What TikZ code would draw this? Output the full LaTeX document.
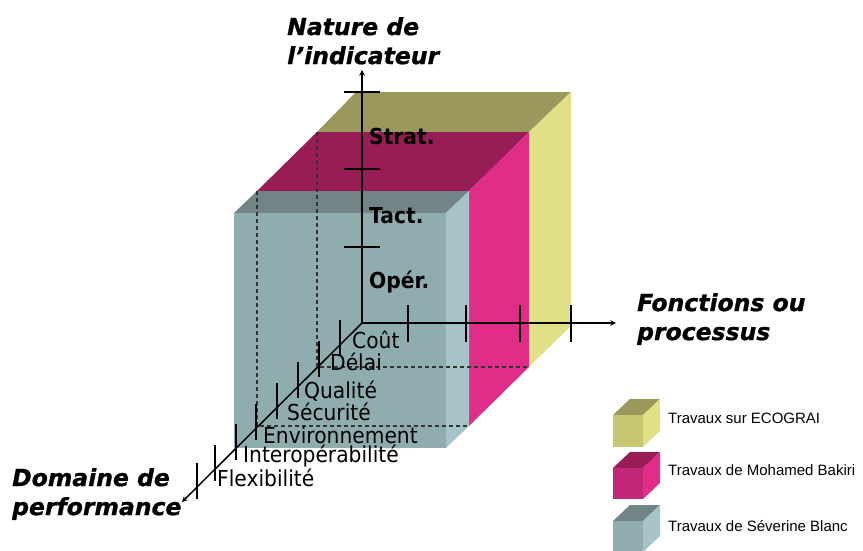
\documentclass[tikz,border=0pt]{standalone}
\usepackage{fontspec}
\setmainfont{DejaVu Sans}
\newfontfamily\etroite{DejaVu Sans}[FakeStretch=0.92]
\newfontfamily\titrefont{DejaVu Sans}[UprightFont={* Bold Oblique},UprightFeatures={FakeBold=0.9}]
\newfontfamily\legfont{Liberation Sans}
\definecolor{grisFace}{HTML}{8FADAF}
\definecolor{grisHaut}{HTML}{718587}
\definecolor{grisCote}{HTML}{A6C4C7}
\definecolor{magFace}{HTML}{C4267A}
\definecolor{magHaut}{HTML}{981D56}
\definecolor{magCote}{HTML}{E02D88}
\definecolor{jauneFace}{HTML}{C9C671}
\definecolor{jauneHaut}{HTML}{9A985A}
\definecolor{jauneCote}{HTML}{E1E087}

\begin{document}
\begin{tikzpicture}[x=1pt,y=-1pt,
  axe/.style={line width=1.5pt,->,>=stealth},
  grad/.style={line width=1.5pt},
  cache/.style={line width=1.1pt,black!80,dash pattern=on 4pt off 3pt},
  titre/.style={inner sep=0,anchor=north west,align=left,font=\fontsize{23.5}{29}\selectfont\titrefont},
  niveau/.style={inner sep=0,anchor=base west,font=\fontsize{22}{26}\selectfont\etroite\bfseries},
  domaine/.style={inner sep=0,anchor=base west,font=\fontsize{22}{26}\selectfont\etroite},
  legende/.style={inner sep=0,anchor=base west,font=\fontsize{15}{18}\selectfont\legfont}]
\useasboundingbox (0,0) rectangle (863,550);

%tranche ECOGRAI
\fill[jauneHaut] (317,132) -- (529,132) -- (571,92) -- (356,92) -- cycle;
\fill[jauneCote] (529,132) -- (571,92) -- (571,326) -- (529,367) -- cycle;
%tranche Bakiri
\fill[magHaut] (257,191) -- (469,191) -- (529,132) -- (317,132) -- cycle;
\fill[magCote] (469,191) -- (529,132) -- (529,367) -- (469,426) -- cycle;
%tranche Blanc
\fill[grisHaut] (234,213) -- (446,213) -- (469,191) -- (257,191) -- cycle;
\fill[grisCote] (446,213) -- (469,191) -- (469,426) -- (446,448) -- cycle;
\fill[grisFace] (234,213) rectangle (446,448);
%aretes cachees
\draw[cache] (257,191) -- (257,426) -- (469,426);
\draw[cache] (317,132) -- (317,367) -- (529,367);
%fin

%axes
\coordinate (O) at (362,323);
\coordinate (Zh) at (362,70);
\coordinate (Xd) at (616,323);
\coordinate (Yb) at (182,502);
\draw[axe] (O) -- (Zh);
\draw[axe] (O) -- (Xd);
\draw[axe] (O) -- (Yb);
%fin

%graduations
\draw[grad] (344,92) --++ (36,0);
\draw[grad] (344,169) --++ (36,0);
\draw[grad] (344,247) --++ (36,0);
\draw[grad] (408,305) --++ (0,37);
\draw[grad] (466,305) --++ (0,37);
\draw[grad] (520,305) --++ (0,37);
\draw[grad] (571,305) --++ (0,37);
\draw[grad] (340,320) --++ (0,36);
\draw[grad] (319,341) --++ (0,36);
\draw[grad] (298,362) --++ (0,36);
\draw[grad] (277,383) --++ (0,36);
\draw[grad] (256,404) --++ (0,36);
\draw[grad] (236,424) --++ (0,36);
\draw[grad] (215,445) --++ (0,36);
\draw[grad] (197,463) --++ (0,36);
%fin

%niveaux
\node[niveau] (strat) at (369,144) {Strat.};
\node[niveau] (tact) at (369,223) {Tact.};
\node[niveau] (oper) at (369,288) {Opér.};
%domaines
\node[domaine] (cout) at (352,348) {Coût};
\node[domaine] (delai) at (330,370) {Délai};
\node[domaine] (qualite) at (304,398) {Qualité};
\node[domaine] (securite) at (287,420) {Sécurité};
\node[domaine] (environ) at (263,443) {Environnement};
\node[domaine] (interop) at (243,462) {Interopérabilité};
\node[domaine] (flexi) at (217,486) {Flexibilité};
%titres des axes
\node[titre] (nature) at (287,17) {Nature de\\l’indicateur};
\node[titre] (fonctions) at (637,293) {Fonctions ou\\processus};
\node[titre] (perf) at (12,468) {Domaine de\\performance};
%fin

%legende
\fill[jauneHaut] (613,415) -- (643,415) -- (660,399) -- (630,399) -- cycle;
\fill[jauneCote] (643,415) -- (660,399) -- (660,431) -- (643,447) -- cycle;
\fill[jauneFace] (613,415) rectangle (643,447);
\fill[magHaut] (613,468) -- (643,468) -- (660,452) -- (630,452) -- cycle;
\fill[magCote] (643,468) -- (660,452) -- (660,483) -- (643,499) -- cycle;
\fill[magFace] (613,468) rectangle (643,499);
\fill[grisHaut] (613,521) -- (643,521) -- (660,505) -- (630,505) -- cycle;
\fill[grisCote] (643,521) -- (660,505) -- (660,536) -- (643,552) -- cycle;
\fill[grisFace] (613,521) rectangle (643,552);
\node[legende] (legJaune) at (668,423) {Travaux sur ECOGRAI};
\node[legende] (legMag) at (668,475) {Travaux de Mohamed Bakiri};
\node[legende] (legGris) at (668,531) {Travaux de Séverine Blanc};
%fin
\end{tikzpicture}
\end{document}
